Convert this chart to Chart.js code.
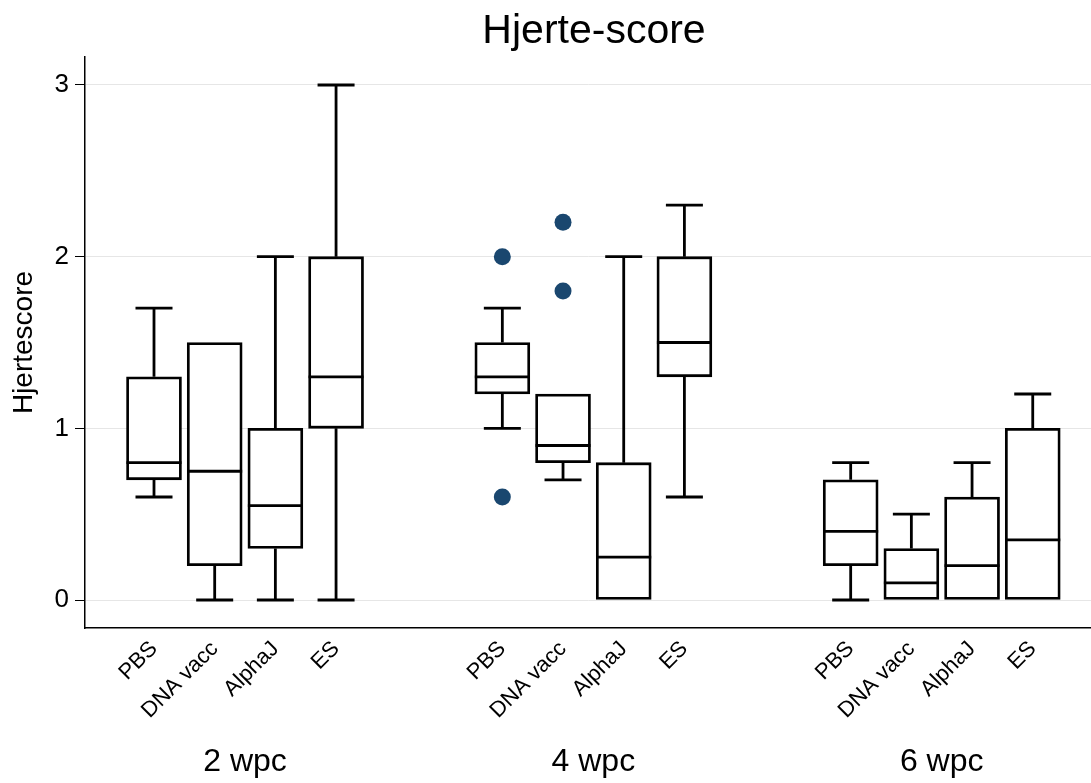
<!DOCTYPE html>
<html lang="no">
<head>
<meta charset="UTF-8">
<title>Hjerte-score</title>
<script src="https://cdn.jsdelivr.net/npm/chart.js"></script>
<style>
    html, body { margin: 0; padding: 0; background: #fff; overflow: hidden; }
    #wrap { position: relative; width: 1091px; height: 783px; }
    canvas { display: block; }
</style>
</head>
<body>
<div id="wrap"><canvas id="grafico"></canvas></div>
<script>
    // labels
    const title = "Hjerte-score";
    const yTitle = "Hjertescore";
    const groups = ["2 wpc", "4 wpc", "6 wpc"];
    const treatments = ["PBS", "DNA vacc", "AlphaJ", "ES"];
    const yTicks = [0, 1, 2, 3];

    // box plot values, one row per group, one column per treatment
    const whiskerLow  = [[0.6, 0.0, 0.0, 0.0], [1.0, 0.7, 0.0, 0.6], [0.0, 0.0, 0.0, 0.0]];
    const q1          = [[0.7, 0.2, 0.3, 1.0], [1.2, 0.8, 0.0, 1.3], [0.2, 0.0, 0.0, 0.0]];
    const median      = [[0.8, 0.75, 0.55, 1.3], [1.3, 0.9, 0.25, 1.5], [0.4, 0.1, 0.2, 0.35]];
    const q3          = [[1.3, 1.5, 1.0, 2.0], [1.5, 1.2, 0.8, 2.0], [0.7, 0.3, 0.6, 1.0]];
    const whiskerHigh = [[1.7, 1.5, 2.0, 3.0], [1.7, 1.2, 2.0, 2.3], [0.8, 0.5, 0.8, 1.2]];

    // outside values: [group, treatment, value]
    const outliers = [[1, 0, 2.0], [1, 0, 0.6], [1, 1, 2.2], [1, 1, 1.8]];

    const FONT = "'Liberation Sans', Arial, Helvetica, sans-serif";
    const GROUP_STEP = 5.74;   // distance between groups, in box slots
    const BOX_W = 55;
    const CAP_W = 37;
    const LINE = 2.8;

    function pos(g, i) { return g * GROUP_STEP + i; }

    const boxes = [];
    const positions = [];
    groups.forEach((_, g) => treatments.forEach((_, i) => {
        boxes.push({ x: pos(g, i), y: [q1[g][i], q3[g][i]], g: g, i: i });
        positions.push(pos(g, i));
    }));
    const outlierPoints = outliers.map(o => ({ x: pos(o[0], o[1]), y: o[2] }));

    // whiskers, caps, medians, title and group labels
    const boxParts = {
        id: "boxParts",
        beforeDatasetsDraw(chart) {
            const ctx = chart.ctx, xs = chart.scales.x, ys = chart.scales.y;
            ctx.save();
            ctx.strokeStyle = "#000";
            ctx.lineWidth = LINE;
            boxes.forEach(b => {
                const px = xs.getPixelForValue(b.x);
                [[whiskerHigh[b.g][b.i], q3[b.g][b.i]], [whiskerLow[b.g][b.i], q1[b.g][b.i]]].forEach(w => {
                    if (w[0] === w[1]) return;
                    const p0 = ys.getPixelForValue(w[0]), p1 = ys.getPixelForValue(w[1]);
                    ctx.beginPath();
                    ctx.moveTo(px, p0); ctx.lineTo(px, p1);
                    ctx.moveTo(px - CAP_W / 2, p0); ctx.lineTo(px + CAP_W / 2, p0);
                    ctx.stroke();
                });
            });
            ctx.restore();
        },
        afterDatasetsDraw(chart) {
            const ctx = chart.ctx, xs = chart.scales.x, ys = chart.scales.y, area = chart.chartArea;
            ctx.save();
            ctx.strokeStyle = "#000";
            ctx.lineWidth = LINE;
            boxes.forEach(b => {
                const px = xs.getPixelForValue(b.x);
                const py = ys.getPixelForValue(median[b.g][b.i]);
                ctx.beginPath();
                ctx.moveTo(px - BOX_W / 2, py); ctx.lineTo(px + BOX_W / 2, py);
                ctx.stroke();
            });
            ctx.fillStyle = "#000";
            ctx.textAlign = "center";
            ctx.textBaseline = "alphabetic";
            ctx.font = "41px " + FONT;
            ctx.fillText(title, (area.left + area.right) / 2 + 6, 43);
            ctx.font = "32px " + FONT;
            groups.forEach((name, g) => {
                const cx = (xs.getPixelForValue(pos(g, 0)) + xs.getPixelForValue(pos(g, treatments.length - 1))) / 2;
                ctx.fillText(name, cx, 771);
            });
            ctx.restore();
        }
    };

    new Chart(document.getElementById("grafico"), {
        type: "bar",
        data: {
            datasets: [
                {
                    type: "bar",
                    data: boxes,
                    backgroundColor: "#fff",
                    borderColor: "#000",
                    borderWidth: LINE,
                    borderSkipped: false,
                    barThickness: BOX_W
                },
                {
                    type: "scatter",
                    data: outlierPoints,
                    backgroundColor: "#1a476f",
                    borderWidth: 0,
                    pointRadius: 8.5
                }
            ]
        },
        options: {
            responsive: true,
            maintainAspectRatio: false,
            animation: false,
            layout: { autoPadding: false, padding: { top: 57, left: 0, right: 0, bottom: 0 } },
            plugins: { legend: { display: false }, tooltip: { enabled: false } },
            scales: {
                x: {
                    type: "linear",
                    offset: false,
                    min: -1.137,
                    max: 15.44,
                    afterBuildTicks: axis => { axis.ticks = positions.map(v => ({ value: v })); },
                    afterFit: scale => { scale.height = 155; scale.paddingLeft = 0; scale.paddingRight = 0; },
                    grid: { display: false, drawTicks: false },
                    border: { display: true, color: "#000", width: 1.5 },
                    ticks: {
                        autoSkip: false,
                        minRotation: 45,
                        maxRotation: 45,
                        padding: 8,
                        color: "#000",
                        font: { family: FONT, size: 22 },
                        callback: (v, idx) => treatments[idx % treatments.length]
                    }
                },
                y: {
                    min: -0.163,
                    max: 3.163,
                    afterBuildTicks: axis => { axis.ticks = yTicks.map(v => ({ value: v })); },
                    afterFit: scale => { scale.width = 85; },
                    grid: { color: "#e6e6e6", lineWidth: 1, tickColor: "#000", tickLength: 10, drawTicks: true },
                    border: { display: true, color: "#000", width: 1.5 },
                    ticks: { color: "#000", padding: 6, font: { family: FONT, size: 26 } },
                    title: { display: true, text: yTitle, color: "#000", padding: { top: 7, bottom: 0 }, font: { family: FONT, size: 28 } }
                }
            }
        },
        plugins: [boxParts]
    });
</script>
</body>
</html>
